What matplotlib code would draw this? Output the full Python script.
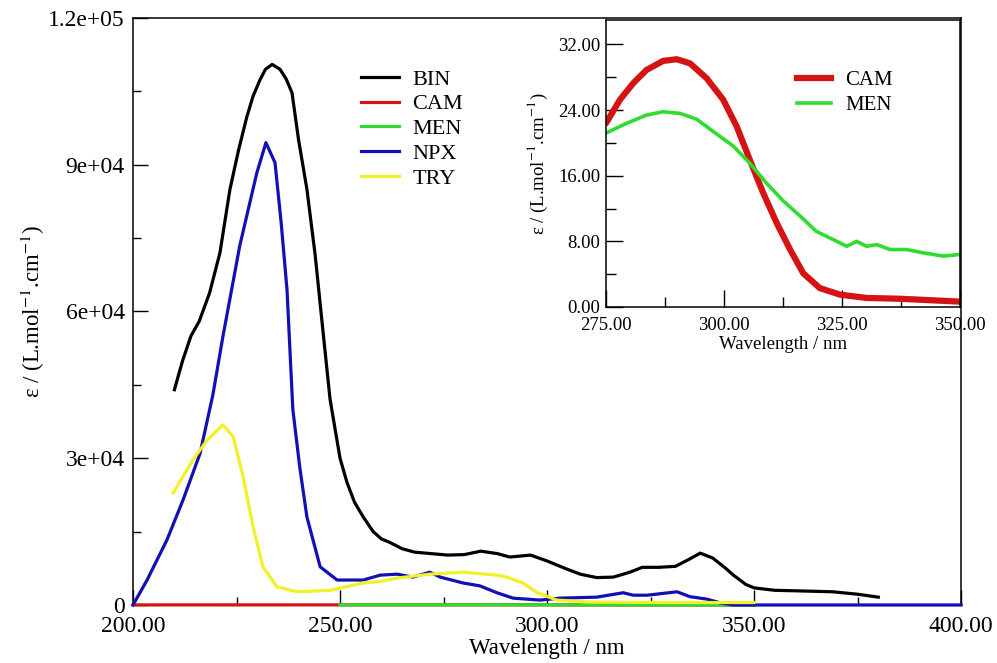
import matplotlib
matplotlib.use("Agg")
import matplotlib.pyplot as plt
from matplotlib.ticker import MultipleLocator, FuncFormatter, FormatStrFormatter

plt.rcParams['font.family'] = ['Liberation Serif', 'DejaVu Serif']
plt.rcParams['mathtext.fontset'] = 'stix'

# BIN
bin_wl = [210, 212, 214, 216, 218.5, 221, 223.4, 225.5, 227.5, 229, 230.7, 232, 233.6,
          235.5, 237, 238.4, 240, 242, 244, 246, 247.6, 250, 251.7, 253.5, 255.6, 258,
          260, 262, 265, 268, 272, 276, 280, 284, 288, 291, 296, 300, 304, 308, 312, 316,
          320, 323, 327, 331, 334, 337, 340, 343, 345, 348, 350, 355, 360, 369, 375, 380]
bin_eps = [44000, 50000, 55000, 58000, 63800, 72000, 84900, 93000, 99800, 104000, 107400,
           109500, 110500, 109500, 107500, 104700, 95000, 85000, 71500, 55000, 42000, 30000,
           25000, 21000, 18000, 15000, 13500, 12800, 11500, 10800, 10500, 10200, 10300, 11000,
           10500, 9800, 10200, 9000, 7600, 6300, 5600, 5700, 6700, 7700, 7700, 7900, 9200,
           10600, 9600, 7600, 6100, 4200, 3500, 3000, 2900, 2700, 2200, 1600]

# NPX
npx_wl = [200, 203.4, 208.2, 212.1, 216.2, 219.3, 221.7, 225.8, 229.9, 232.1, 234.3, 235.8,
          237.2, 238.6, 240.3, 242, 245.2, 249.3, 255.6, 259.7, 263.8, 267.6, 271.7, 274.2,
          279.7, 283.8, 287.9, 291.8, 298.3, 303.1, 312, 318.4, 320.8, 324.2, 331.4, 334.5,
          338.6, 342, 345, 370, 400]
npx_eps = [0, 5100, 13300, 21500, 31000, 43000, 54800, 73500, 88300, 94500, 90400, 78000,
           64400, 40000, 28000, 18000, 7800, 5100, 5100, 6100, 6300, 5700, 6700, 5700,
           4500, 3900, 2500, 1400, 1000, 1400, 1600, 2500, 2000, 2000, 2700, 1700,
           1200, 400, 0, 0, 0]

# TRY
try_wl = [209.7, 214.5, 217.9, 221.7, 224.2, 226.6, 229, 231.4, 234.8, 239.6, 247.6, 255.6,
          259.7, 263.8, 271.7, 279.7, 287.9, 290.3, 294.2, 297.6, 302.4, 310, 330, 350]
try_eps = [22900, 29700, 33700, 36800, 34400, 26200, 16000, 7800, 3700, 2700, 3000, 4500,
           4800, 5500, 6300, 6700, 6100, 5700, 4500, 2500, 1000, 600, 500, 500]

# CAM (same data used in inset)
cam_wl = [200, 225, 250, 265, 275, 278, 280.8, 283.6, 287.1, 290, 292.8, 296.3, 299.8, 302.7,
          305.5, 308.3, 311.2, 314, 316.8, 320.3, 324.6, 330.2, 337.3, 350]
cam_eps = [15.0, 18.0, 20.0, 21.5, 22.4, 25.3, 27.3, 28.9, 30.0, 30.2, 29.7, 27.9, 25.3, 22.0,
           17.9, 13.9, 10.2, 7.0, 4.1, 2.3, 1.5, 1.1, 1.0, 0.65]

# MEN
men_wl = [250, 265, 275, 279.4, 283.6, 287.1, 290.7, 294.2, 297.7, 302, 305.5, 309, 312.6,
          316.1, 319.6, 323.2, 326, 328.1, 330.2, 332.4, 335.2, 338.7, 342.2, 346.5, 350]
men_eps = [17.0, 20.0, 21.2, 22.4, 23.4, 23.8, 23.6, 22.9, 21.4, 19.6, 17.5, 15.1, 12.9,
           11.1, 9.2, 8.2, 7.4, 8.0, 7.4, 7.6, 7.0, 7.0, 6.6, 6.2, 6.4]

c_black = 'black'
c_red = '#d41414'
c_green = '#2fdc2f'
c_blue = '#1010b4'
c_yellow = '#f2f026'

fig = plt.figure(figsize=(9.97, 6.63), dpi=100)
ax = fig.add_axes([0.1334, 0.0875, 0.8306, 0.8855])

lw = 2.3
ax.plot(bin_wl, bin_eps, color=c_black, lw=lw, label='BIN', clip_on=False, zorder=3)
ax.plot(cam_wl, cam_eps, color=c_red, lw=lw, label='CAM', clip_on=False, zorder=3)
ax.plot(men_wl, men_eps, color=c_green, lw=lw, label='MEN', clip_on=False, zorder=3)
ax.plot(npx_wl, npx_eps, color=c_blue, lw=lw, label='NPX', clip_on=False, zorder=3)
ax.plot(try_wl, try_eps, color=c_yellow, lw=lw, label='TRY', clip_on=False, zorder=3)

ax.set_xlim(200, 400)
ax.set_ylim(0, 1.2e5)
ax.xaxis.set_major_locator(MultipleLocator(50))
ax.xaxis.set_minor_locator(MultipleLocator(25))
ax.yaxis.set_major_locator(MultipleLocator(30000))
ax.yaxis.set_minor_locator(MultipleLocator(15000))
ax.xaxis.set_major_formatter(FormatStrFormatter('%.2f'))
ax.yaxis.set_major_formatter(FuncFormatter(lambda v, p: '0' if v == 0 else f'{v:.2g}'))
ax.tick_params(which='both', direction='in', top=False, right=False, labelsize=17, width=1)
ax.tick_params(which='major', length=11)
ax.tick_params(which='minor', length=6)
ax.tick_params(axis='x', pad=8)
ax.tick_params(axis='y', pad=6)
for s in ax.spines.values():
    s.set_linewidth(1.1)
ax.set_xlabel('Wavelength / nm', fontsize=16.5, labelpad=1)
ax.set_ylabel(r'ε / (L.mol$^{-1}$.cm$^{-1}$)', fontsize=16.5, labelpad=1)

ax.legend(loc='upper left', bbox_to_anchor=(350 / 997, 1 - 58 / 663),
          bbox_transform=fig.transFigure, frameon=False, fontsize=16,
          handlelength=1.7, handletextpad=0.6, labelspacing=0.19, borderpad=0)

# inset
ins = fig.add_axes([0.6078, 0.537, 0.3551, 0.433])
ins.plot(cam_wl, cam_eps, color=c_red, lw=4.5, label='CAM')
ins.plot(men_wl, men_eps, color=c_green, lw=2.6, label='MEN')
ins.set_xlim(275, 350)
ins.set_ylim(0, 35)
ins.xaxis.set_major_locator(MultipleLocator(25))
ins.xaxis.set_minor_locator(MultipleLocator(12.5))
ins.yaxis.set_major_locator(MultipleLocator(8))
ins.yaxis.set_minor_locator(MultipleLocator(4))
ins.xaxis.set_major_formatter(FormatStrFormatter('%.2f'))
ins.yaxis.set_major_formatter(FormatStrFormatter('%.2f'))
ins.tick_params(which='both', direction='in', top=False, right=False, labelsize=13.5, width=1)
ins.tick_params(which='major', length=12)
ins.tick_params(which='minor', length=7)
ins.tick_params(axis='x', pad=7)
ins.tick_params(axis='y', pad=4)
for s in ins.spines.values():
    s.set_linewidth(1.1)
ins.set_xlabel('Wavelength / nm', fontsize=13.5, labelpad=2)
ins.set_ylabel(r'ε / (L.mol$^{-1}$.cm$^{-1}$)', fontsize=13.5, labelpad=6)
ins.legend(loc='upper left', bbox_to_anchor=(787 / 997, 1 - 60 / 663),
           bbox_transform=fig.transFigure, frameon=False, fontsize=15,
           handlelength=1.6, handletextpad=0.7, labelspacing=0.28, borderpad=0)

fig.savefig('out.png', dpi=100)
